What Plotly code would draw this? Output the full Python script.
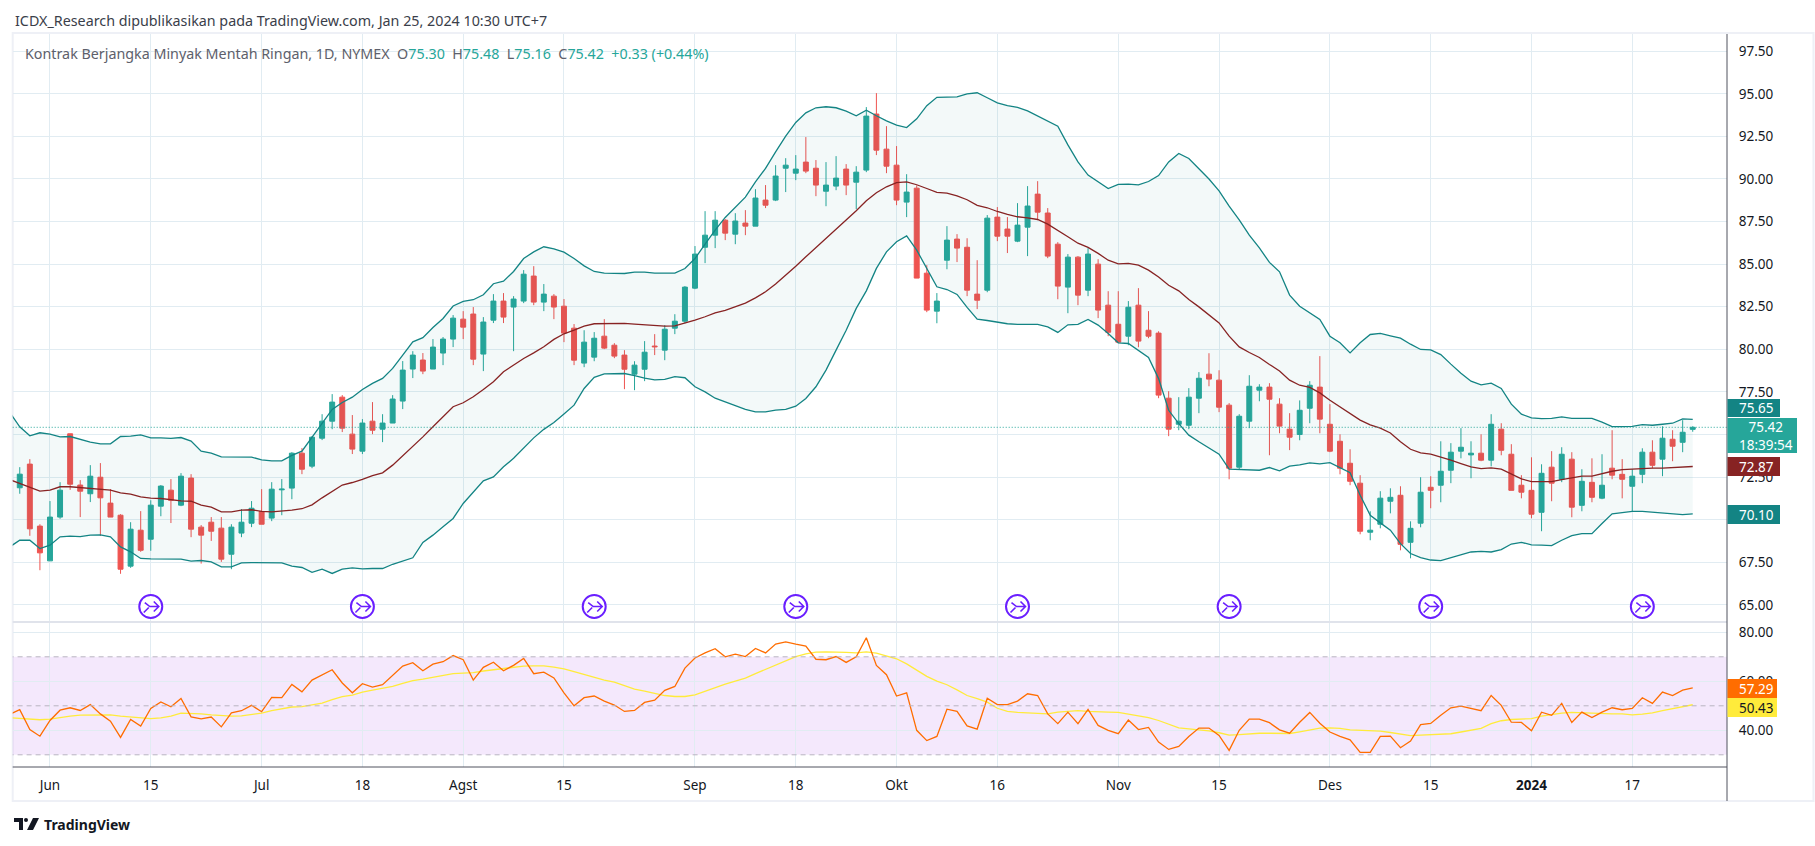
import plotly.graph_objects as go

W, H = 1815, 846
FONT = "Noto Sans"
TEXT = "#131722"
GRID = "#e1ecf2"
FRAME = "#eef0f6"
UP = "#26a69a"
DOWN = "#ef5350"
BAND = "#138484"
BASIS = "#872323"

# daily candles
open_ = [71.87, 73.26, 69.62, 67.58, 70.15, 75.04, 72.03, 71.52, 72.49, 70.97,
         70.26, 67.27, 69.38, 68.85, 70.79, 71.73, 70.85, 72.44, 69.56, 69.85,
         69.50, 67.97, 69.21, 69.79, 70.48, 70.09, 71.75, 71.85, 73.90, 73.14,
         74.78, 75.78, 77.19, 75.02, 74.02, 75.78, 75.31, 75.67, 76.96, 78.84,
         79.37, 78.84, 79.78, 80.60, 81.77, 82.07, 79.72, 81.71, 82.83, 82.48,
         82.83, 84.30, 82.77, 83.12, 82.53, 81.24, 79.19, 79.54, 80.77, 80.24,
         79.66, 78.54, 78.83, 80.19, 79.95, 81.24, 81.65, 83.59, 85.99, 86.70,
         87.58, 86.76, 87.41, 87.23, 88.76, 88.76, 90.63, 90.34, 90.99, 90.63,
         89.28, 89.58, 90.58, 89.81, 90.52, 93.81, 91.75, 90.81, 88.64, 89.46,
         84.47, 82.24, 85.23, 86.47, 85.99, 83.24, 83.47, 87.76, 87.06, 86.35,
         87.17, 89.11, 88.00, 86.17, 83.65, 85.41, 83.47, 85.00, 82.59, 81.47,
         80.77, 82.59, 81.12, 80.95, 77.13, 75.60, 75.54, 77.13, 78.54, 78.19,
         76.72, 73.08, 75.78, 77.60, 77.78, 76.78, 75.31, 75.00, 76.54, 77.78,
         75.60, 74.60, 73.31, 72.14, 69.26, 69.73, 71.08, 71.43, 68.67, 69.79,
         71.90, 72.02, 72.90, 74.02, 73.80, 73.90, 73.49, 75.31, 73.84, 72.02,
         71.72, 70.43, 73.08, 72.37, 73.55, 70.84, 72.19, 71.26, 73.02, 72.66,
         71.96, 72.66, 73.96, 73.55, 74.72, 74.54, 75.30]
high = [73.08, 73.55, 69.73, 71.09, 72.20, 75.04, 72.32, 73.20, 73.32, 71.79,
        70.32, 69.85, 70.50, 71.14, 72.03, 72.38, 72.73, 72.67, 69.68, 70.15,
        70.15, 69.73, 70.62, 71.09, 71.79, 72.20, 72.38, 73.96, 74.20, 74.90,
        76.19, 77.37, 77.31, 76.14, 75.90, 76.90, 76.19, 77.31, 79.31, 79.89,
        79.78, 80.60, 80.72, 82.01, 82.24, 82.48, 81.89, 83.24, 83.30, 83.12,
        84.65, 84.88, 83.83, 83.24, 82.95, 81.48, 81.12, 81.01, 81.77, 80.36,
        79.95, 79.30, 80.48, 80.89, 81.42, 82.06, 83.71, 86.06, 88.11, 88.11,
        87.64, 87.99, 88.17, 89.40, 89.64, 90.81, 91.22, 91.40, 92.46, 91.11,
        90.99, 91.34, 90.87, 90.75, 94.22, 95.04, 93.10, 91.93, 90.28, 89.62,
        84.94, 83.30, 87.23, 86.76, 86.52, 85.23, 87.88, 88.35, 87.76, 88.58,
        89.58, 89.87, 88.29, 86.29, 85.59, 85.47, 85.94, 85.29, 83.41, 83.41,
        82.83, 83.59, 82.24, 81.06, 77.54, 77.19, 77.72, 78.66, 79.77, 78.77,
        76.84, 76.19, 78.48, 77.95, 78.01, 77.13, 76.25, 77.00, 78.13, 79.60,
        76.78, 75.01, 74.13, 72.61, 70.49, 71.67, 71.84, 71.96, 69.90, 72.49,
        72.55, 74.60, 74.49, 75.37, 74.60, 75.01, 76.19, 75.66, 74.43, 72.61,
        73.66, 73.25, 74.02, 74.25, 73.96, 72.96, 73.60, 73.84, 75.25, 73.55,
        72.96, 74.19, 74.66, 75.48, 75.25, 75.84, 75.48]
low = [71.52, 69.05, 67.03, 67.58, 70.05, 71.75, 70.15, 71.03, 69.05, 70.15,
       66.82, 67.17, 68.11, 68.17, 70.20, 69.80, 70.79, 68.97, 67.42, 68.75,
       67.52, 67.09, 68.97, 69.56, 69.73, 69.91, 70.26, 71.20, 72.67, 73.02,
       74.67, 75.31, 75.14, 73.85, 73.85, 75.02, 74.55, 75.67, 76.49, 78.31,
       78.54, 78.84, 79.07, 80.13, 80.60, 79.07, 78.72, 81.54, 81.54, 79.89,
       82.71, 82.59, 82.24, 81.77, 80.42, 79.07, 78.95, 79.30, 80.01, 79.48,
       77.66, 77.60, 78.13, 79.66, 79.36, 80.89, 81.52, 83.53, 85.06, 85.94,
       86.41, 86.17, 86.70, 87.23, 88.29, 88.70, 89.23, 89.93, 90.34, 88.99,
       88.40, 89.34, 89.05, 88.23, 90.40, 91.40, 90.34, 88.46, 87.76, 84.18,
       82.18, 81.53, 84.70, 85.12, 83.12, 82.36, 83.35, 86.35, 85.65, 86.29,
       85.47, 87.58, 85.35, 82.94, 82.12, 82.59, 83.12, 81.83, 80.77, 80.36,
       80.24, 80.12, 80.65, 77.13, 74.90, 75.25, 75.31, 76.25, 77.83, 76.31,
       72.37, 72.94, 75.37, 76.95, 73.78, 75.07, 74.08, 74.66, 75.66, 75.07,
       73.96, 72.66, 72.02, 69.14, 68.79, 69.49, 70.37, 68.20, 67.73, 69.55,
       70.67, 71.02, 72.14, 73.60, 72.43, 73.43, 73.13, 73.78, 71.72, 71.25,
       70.08, 69.32, 71.08, 72.20, 70.14, 70.49, 71.02, 71.20, 72.37, 71.25,
       70.49, 72.14, 73.02, 72.55, 73.43, 73.96, 75.16]
close = [72.67, 69.46, 68.05, 70.15, 71.73, 72.08, 71.67, 72.55, 71.28, 70.15,
         67.09, 69.44, 68.20, 70.85, 71.97, 71.14, 72.55, 69.44, 69.09, 69.32,
         67.68, 69.56, 69.85, 70.67, 69.73, 71.79, 71.79, 73.90, 72.96, 74.84,
         75.78, 76.90, 75.37, 74.14, 75.67, 75.25, 75.67, 77.08, 78.78, 79.66,
         78.72, 80.13, 80.60, 81.83, 81.30, 79.42, 81.60, 82.83, 81.89, 82.95,
         84.41, 82.77, 83.24, 82.48, 80.95, 79.36, 80.42, 80.65, 80.07, 79.60,
         78.83, 79.07, 79.83, 80.15, 81.18, 81.65, 83.65, 85.59, 86.70, 87.58,
         86.82, 87.53, 87.23, 88.88, 88.46, 90.17, 90.81, 90.58, 90.46, 89.64,
         89.64, 90.05, 89.64, 90.40, 93.69, 91.69, 90.75, 88.76, 89.23, 84.18,
         82.30, 82.83, 86.41, 85.94, 83.47, 82.88, 87.70, 86.64, 86.64, 87.29,
         88.41, 88.05, 85.47, 83.71, 85.41, 83.18, 85.59, 82.30, 81.00, 80.42,
         82.47, 80.48, 80.77, 77.31, 75.31, 75.78, 77.19, 78.30, 78.25, 76.60,
         73.02, 76.07, 77.83, 77.78, 77.07, 75.49, 74.84, 76.42, 77.89, 75.90,
         74.02, 73.02, 72.25, 69.32, 69.38, 71.26, 71.31, 68.55, 69.49, 71.61,
         71.72, 72.84, 73.96, 74.25, 73.90, 73.49, 75.60, 74.07, 71.72, 71.61,
         70.32, 72.72, 72.14, 73.84, 70.73, 72.25, 71.31, 72.02, 72.61, 72.37,
         72.55, 73.96, 73.19, 74.78, 74.31, 75.13, 75.42]

# bollinger bands, first value is the bar just left of the visible range
bb_upper = [76.3,
            75.45, 74.92, 75.10, 75.02, 74.86, 74.88, 74.73, 74.55, 74.45, 74.45,
            74.88, 74.90, 74.98, 74.80, 74.80, 74.77, 74.82, 74.61, 74.02, 73.90,
            73.69, 73.69, 73.65, 73.67, 73.51, 73.45, 73.45, 73.77, 74.02, 74.86,
            75.65, 76.47, 76.88, 77.19, 77.64, 78.00, 78.29, 78.88, 79.66, 80.44,
            80.68, 81.28, 81.81, 82.54, 82.81, 82.91, 83.20, 83.85, 84.00, 84.57,
            85.33, 85.72, 86.02, 85.90, 85.70, 85.33, 84.90, 84.57, 84.47, 84.45,
            84.45, 84.53, 84.53, 84.47, 84.45, 84.47, 84.74, 85.33, 86.17, 87.00,
            87.74, 88.33, 88.93, 89.83, 90.62, 91.59, 92.51, 93.32, 93.88, 94.18,
            94.24, 94.18, 93.98, 93.71, 94.04, 93.71, 93.41, 93.16, 93.02, 93.53,
            94.30, 94.79, 94.80, 94.82, 95.00, 95.06, 94.77, 94.47, 94.30, 94.20,
            94.00, 93.70, 93.40, 93.10, 92.00, 91.00, 90.23, 89.83, 89.44, 89.68,
            89.70, 89.65, 89.85, 90.20, 91.00, 91.50, 91.20, 90.60, 90.00, 89.30,
            88.40, 87.60, 86.70, 85.95, 85.10, 84.55, 83.18, 82.53, 82.14, 81.75,
            80.77, 80.38, 79.79, 80.38, 80.87, 80.93, 80.79, 80.65, 80.30, 79.99,
            79.97, 79.69, 79.13, 78.60, 78.13, 77.91, 78.01, 77.70, 76.78, 76.19,
            75.97, 75.93, 75.95, 76.03, 75.95, 75.95, 75.95, 75.72, 75.46, 75.46,
            75.48, 75.58, 75.54, 75.60, 75.66, 75.91, 75.89]
bb_basis = [72.35,
            72.12, 71.93, 71.67, 71.73, 71.93, 71.93, 71.87, 71.81, 71.75, 71.73,
            71.57, 71.50, 71.34, 71.26, 71.24, 71.16, 71.10, 71.08, 70.85, 70.73,
            70.46, 70.46, 70.56, 70.58, 70.48, 70.46, 70.50, 70.56, 70.64, 70.87,
            71.28, 71.65, 72.03, 72.18, 72.36, 72.59, 72.75, 73.20, 73.75, 74.28,
            74.86, 75.45, 76.04, 76.63, 76.86, 77.21, 77.64, 78.09, 78.68, 79.07,
            79.46, 79.79, 80.15, 80.58, 80.91, 81.12, 81.36, 81.50, 81.52, 81.52,
            81.52, 81.48, 81.44, 81.36, 81.36, 81.38, 81.54, 81.71, 81.91, 82.14,
            82.28, 82.49, 82.71, 83.02, 83.38, 83.83, 84.33, 84.88, 85.43, 85.96,
            86.51, 87.04, 87.58, 88.13, 88.72, 89.19, 89.54, 89.78, 89.83, 89.66,
            89.44, 89.21, 89.17, 89.01, 88.78, 88.45, 88.31, 88.09, 87.92, 87.78,
            87.72, 87.62, 87.35, 87.00, 86.61, 86.23, 85.98, 85.63, 85.23, 85.02,
            85.04, 84.94, 84.65, 84.25, 83.76, 83.43, 82.92, 82.49, 82.04, 81.55,
            80.77, 80.14, 79.81, 79.52, 79.11, 78.73, 78.19, 77.89, 77.76, 77.44,
            77.01, 76.62, 76.23, 75.84, 75.56, 75.37, 75.09, 74.57, 74.13, 73.92,
            73.84, 73.68, 73.49, 73.29, 73.10, 73.00, 73.04, 72.96, 72.66, 72.39,
            72.23, 72.23, 72.23, 72.35, 72.47, 72.55, 72.55, 72.70, 72.84, 72.94,
            72.98, 73.00, 73.02, 73.02, 73.04, 73.10, 73.12]
bb_lower = [68.4,
            68.79, 68.79, 68.30, 68.50, 68.99, 69.03, 69.00, 69.09, 69.11, 68.99,
            68.40, 68.11, 67.72, 67.70, 67.70, 67.70, 67.68, 67.56, 67.60, 67.52,
            67.23, 67.23, 67.46, 67.48, 67.46, 67.46, 67.46, 67.27, 67.19, 66.91,
            67.09, 66.84, 67.09, 67.17, 67.11, 67.13, 67.13, 67.38, 67.56, 67.76,
            68.66, 69.09, 69.58, 70.07, 70.95, 71.63, 72.28, 72.51, 73.10, 73.60,
            74.20, 74.80, 75.30, 75.70, 76.20, 76.72, 77.70, 78.35, 78.56, 78.58,
            78.58, 78.46, 78.31, 78.21, 78.23, 78.40, 78.33, 77.80, 77.50, 77.13,
            76.92, 76.68, 76.47, 76.33, 76.33, 76.43, 76.47, 76.66, 77.11, 77.80,
            78.78, 79.95, 81.12, 82.40, 83.43, 84.75, 85.72, 86.31, 86.66, 85.82,
            84.73, 83.67, 83.51, 83.22, 82.46, 81.77, 81.69, 81.59, 81.50, 81.46,
            81.46, 81.46, 81.32, 80.99, 81.44, 81.46, 81.75, 81.42, 80.93, 80.38,
            80.34, 79.95, 79.52, 78.28, 76.42, 75.64, 74.96, 74.57, 74.21, 73.84,
            72.96, 72.94, 72.94, 72.90, 73.06, 72.86, 73.14, 73.21, 73.33, 73.27,
            73.35, 73.06, 72.75, 71.43, 70.26, 69.81, 69.38, 68.59, 68.01, 67.77,
            67.63, 67.59, 67.75, 67.91, 68.10, 68.14, 68.10, 68.24, 68.57, 68.67,
            68.52, 68.50, 68.48, 68.79, 69.06, 69.18, 69.18, 69.77, 70.34, 70.41,
            70.49, 70.49, 70.45, 70.41, 70.36, 70.30, 70.34]

# rsi and its moving average, same bar offset as the bands
rsi = [46.5,
       48.4, 40.3, 37.6, 44.0, 48.2, 49.2, 48.1, 50.5, 46.7, 43.7,
       37.1, 44.4, 41.7, 48.9, 51.6, 49.6, 53.0, 45.5, 44.7, 45.4,
       41.4, 47.1, 48.0, 50.2, 47.6, 53.4, 53.3, 58.7, 55.7, 60.5,
       62.5, 64.7, 59.3, 55.3, 59.0, 57.6, 58.6, 62.4, 66.2, 67.6,
       64.3, 67.0, 68.0, 70.5, 68.8, 60.5, 65.7, 67.8, 64.3, 66.5,
       69.3, 63.1, 63.7, 61.4, 55.3, 50.0, 53.3, 54.0, 51.9, 50.3,
       47.7, 48.1, 51.4, 52.3, 56.3, 57.9, 65.4, 69.5, 71.6, 73.3,
       70.0, 71.1, 70.1, 73.4, 71.6, 75.2, 76.1, 75.2, 74.4, 69.0,
       68.8, 70.1, 67.7, 70.0, 77.8, 66.5, 62.7, 54.0, 55.3, 40.0,
       35.8, 37.5, 48.6, 47.7, 41.8, 40.5, 53.1, 50.5, 50.5, 51.9,
       54.9, 54.2, 46.7, 42.7, 47.4, 42.7, 48.5, 42.0, 40.0, 38.6,
       44.2, 40.3, 41.2, 35.2, 32.2, 33.4, 37.5, 40.9, 40.9, 37.9,
       31.8, 40.0, 44.6, 44.6, 43.1, 40.2, 38.8, 43.3, 47.3, 42.9,
       39.3, 37.5, 36.1, 31.0, 31.0, 37.5, 37.6, 32.9, 35.6, 42.3,
       42.8, 46.1, 49.2, 49.9, 48.9, 48.0, 54.2, 50.2, 43.3, 43.2,
       39.8, 47.4, 46.1, 51.0, 43.2, 47.4, 45.2, 47.4, 49.2, 48.4,
       48.9, 53.3, 51.0, 55.6, 54.2, 56.4, 57.29]
rsi_ma = [45.1,
          44.8, 44.6, 44.3, 44.6, 45.3, 45.8, 46.2, 46.3, 46.5, 46.3,
          45.8, 45.4, 45.0, 44.8, 45.1, 45.8, 47.0, 47.0, 46.7, 46.3,
          45.9, 45.8, 45.9, 46.3, 47.0, 48.0, 48.8, 49.5, 49.7, 50.3,
          51.1, 52.5, 53.7, 54.4, 55.6, 56.4, 57.1, 57.9, 59.2, 60.3,
          60.9, 61.6, 62.4, 63.1, 63.3, 63.5, 64.2, 64.7, 65.1, 65.8,
          66.2, 66.3, 66.3, 65.8, 65.1, 63.9, 62.7, 61.4, 60.5, 59.7,
          58.2, 56.8, 56.0, 55.2, 54.2, 53.8, 53.8, 54.5, 56.0, 57.5,
          58.8, 60.1, 61.3, 63.1, 64.8, 66.6, 68.4, 70.1, 71.2, 71.9,
          72.0, 72.0, 71.8, 71.6, 72.0, 71.5, 70.3, 69.2, 67.1, 64.4,
          62.0, 60.1, 58.6, 56.5, 54.2, 52.9, 51.5, 49.0, 47.7, 47.3,
          47.1, 46.9, 46.7, 47.4, 47.8, 48.0, 47.7, 47.4, 47.4, 47.3,
          46.6, 45.9, 45.2, 44.0, 42.4, 41.0, 40.6, 40.2, 39.8, 39.0,
          38.0, 38.2, 38.6, 38.8, 38.8, 38.7, 38.7, 39.4, 40.3, 40.9,
          41.0, 40.8, 40.2, 40.0, 40.0, 39.7, 39.1, 38.3, 37.8, 38.0,
          38.3, 38.4, 38.6, 39.3, 40.0, 40.8, 42.7, 43.9, 44.4, 44.7,
          44.8, 45.8, 46.5, 47.0, 47.3, 47.1, 47.0, 46.7, 46.7, 46.7,
          46.3, 46.6, 47.1, 48.0, 48.9, 49.6, 50.43]

tick_bars = [3, 13, 24, 34, 44, 54, 67, 77, 87, 97, 109, 119, 130, 140, 150, 160]
tick_labels = ["Jun", "15", "Jul", "18", "Agst", "15", "Sep", "18", "Okt", "16",
               "Nov", "15", "Des", "15", "<b>2024</b>", "17"]
price_ticks = [97.5, 95, 92.5, 90, 87.5, 85, 82.5, 80, 77.5, 75, 72.5, 70, 67.5, 65]
# 75.00 and 70.00 sit behind the price badges
price_labels = ["97.50", "95.00", "92.50", "90.00", "87.50", "85.00", "82.50", "80.00",
                "77.50", "", "72.50", "", "67.50", "65.00"]
rsi_ticks = [80, 60, 40]
rsi_labels = ["80.00", "60.00", "40.00"]
rollover_bars = [13, 34, 57, 77, 99, 120, 140, 161]
rollover_price = 64.9

bars = list(range(len(close)))
bars_ext = list(range(-1, len(close)))
assert all(len(a) == 167 for a in (open_, high, low, close))
assert all(len(a) == 168 for a in (bb_upper, bb_basis, bb_lower, rsi, rsi_ma))


def px(x):
    return x / W


def py(y):
    return 1 - y / H


fig = go.Figure()

# main pane
fig.add_trace(go.Scatter(x=bars_ext, y=bb_lower, mode="lines", line=dict(color=BAND, width=1.3)))
fig.add_trace(go.Scatter(x=bars_ext, y=bb_upper, mode="lines", line=dict(color=BAND, width=1.3),
                         fill="tonexty", fillcolor="rgba(19,132,132,0.05)"))
fig.add_trace(go.Scatter(x=bars_ext, y=bb_basis, mode="lines", line=dict(color=BASIS, width=1.3)))
fig.add_trace(go.Candlestick(x=bars, open=open_, high=high, low=low, close=close, whiskerwidth=0,
                             increasing=dict(line=dict(color=UP, width=1), fillcolor=UP),
                             decreasing=dict(line=dict(color=DOWN, width=1), fillcolor=DOWN)))
fig.add_trace(go.Scatter(x=rollover_bars, y=[rollover_price] * len(rollover_bars), mode="markers",
                         marker=dict(symbol="circle", size=23, color="white",
                                     line=dict(color="#6a1fff", width=2))))

# rsi pane
fig.add_trace(go.Scatter(x=bars_ext, y=rsi_ma, mode="lines", xaxis="x2", yaxis="y2",
                         line=dict(color="#ffeb3b", width=1.3)))
fig.add_trace(go.Scatter(x=bars_ext, y=rsi, mode="lines", xaxis="x2", yaxis="y2",
                         line=dict(color="#ff6d00", width=1.3)))

shapes = []
shapes.append(dict(type="line", xref="paper", yref="y", x0=px(12.7), x1=px(1727), y0=close[-1], y1=close[-1],
                   line=dict(color=UP, width=1, dash="1px,2px")))
shapes.append(dict(type="rect", xref="x2", yref="y2", x0=-2, x1=175, y0=30, y1=70, layer="below",
                   fillcolor="rgba(135,5,225,0.09)", line=dict(width=0)))
for lvl in [70, 50, 30]:
    shapes.append(dict(type="line", xref="x2", yref="y2", x0=-2, x1=175, y0=lvl, y1=lvl,
                       line=dict(color="#b8b4c0", width=1, dash="5px,4px")))

# arrow glyph inside the rollover circles
for b in rollover_bars:
    shapes.append(dict(type="path", xref="x", yref="y", xsizemode="pixel", ysizemode="pixel",
                       xanchor=b, yanchor=rollover_price,
                       path="M-6,4 L-1,0 L8,0 M3,5 L8,0 L3,-5 M-7,-6 L-2,-1",
                       line=dict(color="#6a1fff", width=1.6)))

# frame and separators
shapes.append(dict(type="rect", xref="paper", yref="paper", x0=px(12.7), x1=px(1813.5), y0=py(801), y1=py(33),
                   line=dict(color=FRAME, width=2), layer="below"))
shapes.append(dict(type="line", xref="paper", yref="paper", x0=px(12.7), x1=px(1727), y0=py(622), y1=py(622),
                   line=dict(color="#e0e3eb", width=2)))
shapes.append(dict(type="line", xref="paper", yref="paper", x0=px(12.7), x1=px(1727), y0=py(767), y1=py(767),
                   line=dict(color="#50535e", width=1)))
shapes.append(dict(type="line", xref="paper", yref="paper", x0=px(1727), x1=px(1727), y0=py(801), y1=py(34),
                   line=dict(color="#50535e", width=1)))

# tradingview mark
shapes.append(dict(type="path", xref="paper", yref="paper", xsizemode="pixel", ysizemode="pixel",
                   xanchor=px(14), yanchor=py(824),
                   path="M0,6 L9,6 L9,-6 L5,-6 L5,2 L0,2 Z M19,6 L25,6 L19,-6 L13,-6 Z",
                   fillcolor=TEXT, line=dict(width=0)))
shapes.append(dict(type="circle", xref="paper", yref="paper", xsizemode="pixel", ysizemode="pixel",
                   xanchor=px(14), yanchor=py(824), x0=10, x1=14, y0=2, y1=6,
                   fillcolor=TEXT, line=dict(width=0)))

annotations = []


def note(x, y, text, size=13.5, color=TEXT, **kw):
    annotations.append(dict(xref="paper", yref="paper", x=px(x), y=py(y), text=text, showarrow=False,
                            xanchor=kw.pop("xanchor", "left"), yanchor="middle",
                            font=dict(family=FONT, size=size, color=color), **kw))


def badge(y0, y1, x1, text, bg, color="white"):
    shapes.append(dict(type="rect", xref="paper", yref="paper", x0=px(1727.5), x1=px(x1),
                       y0=py(y1), y1=py(y0), fillcolor=bg, line=dict(width=0)))
    note(1737, (y0 + y1) / 2, text, color=color)


note(13, 20, "ICDX_Research dipublikasikan pada TradingView.com, Jan 25, 2024 10:30 UTC+7",
     size=14.3, color="#3a3e4a")
val = '<span style="color:#26a69a">%s</span>'
note(23, 53, "Kontrak Berjangka Minyak Mentah Ringan, 1D, NYMEX  O" + val % "75.30" + "  H" + val % "75.48"
     + "  L" + val % "75.16" + "  C" + val % "75.42" + "  " + val % "+0.33 (+0.44%)", size=14.3, color="#5d606b")
note(42, 824, "<b>TradingView</b>", size=14)

badge(399, 417, 1780, "75.65", BAND)
badge(418, 453, 1797, "75.42<br>18:39:54", UP)
badge(457, 476, 1780, "72.87", BASIS)
badge(505, 524, 1780, "70.10", BAND)
badge(679, 698, 1777, "57.29", "#ff6d00")
badge(698, 717, 1777, "50.43", "#ffeb3b", color=TEXT)

x_range = [-0.70, 169.4]
fig.update_layout(
    width=W, height=H, showlegend=False, plot_bgcolor="white", paper_bgcolor="white",
    margin=dict(l=0, r=0, t=0, b=0), boxgap=0.3, shapes=shapes, annotations=annotations,
    font=dict(family=FONT, size=13.5, color=TEXT), hovermode=False,
    xaxis=dict(domain=[px(12.7), px(1727)], range=x_range, anchor="y", showticklabels=False,
               rangeslider=dict(visible=False), tickvals=tick_bars, gridcolor=GRID, zeroline=False),
    yaxis=dict(domain=[py(621.5), py(34)], range=[64.02, 98.51], side="right", anchor="x",
               tickvals=price_ticks, ticktext=price_labels, gridcolor=GRID, zeroline=False,
               ticks="outside", ticklen=8, tickcolor="rgba(0,0,0,0)"),
    xaxis2=dict(domain=[px(12.7), px(1727)], range=x_range, anchor="y2", tickvals=tick_bars,
                ticktext=tick_labels, gridcolor=GRID, zeroline=False, tickangle=0,
                ticks="outside", ticklen=6, tickcolor="rgba(0,0,0,0)"),
    yaxis2=dict(domain=[py(767), py(622.3)], range=[25.02, 84.08], side="right", anchor="x2",
                tickvals=rsi_ticks, ticktext=rsi_labels, gridcolor=GRID, zeroline=False,
                ticks="outside", ticklen=8, tickcolor="rgba(0,0,0,0)"),
)

fig.write_html("out.html", config=dict(displayModeBar=False),
               post_script="document.body.style.margin='0';document.body.style.overflow='hidden';")
